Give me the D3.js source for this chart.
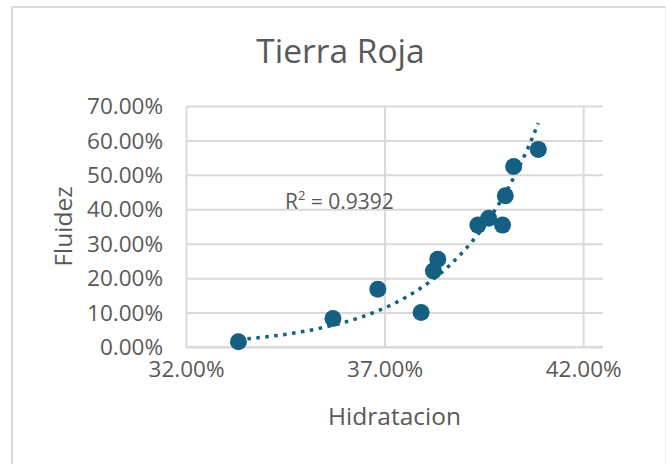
<!DOCTYPE html>
<html>
<head>
<meta charset="utf-8">
<script src="https://cdn.jsdelivr.net/npm/d3@7"></script>
<style>
  body { margin: 0; background: #fff; }
  svg { display: block; }
  text { font-family: "Open Sans", sans-serif; fill: #595959; }
</style>
</head>
<body>
<svg id="chart" width="666" height="464"></svg>
<script>
// Hydration (%) vs. fluidity (%) measurements for "Tierra Roja"
const hidratacion = [33.32, 35.70, 36.83, 37.92, 38.23, 38.34, 39.35, 39.62, 39.97, 40.04, 40.25, 40.87];
const fluidez     = [1.54, 8.3, 16.8, 10.0, 22.1, 25.5, 35.4, 37.4, 35.4, 43.9, 52.4, 57.4];
const xTicks = [32, 37, 42];
const yTicks = [0, 10, 20, 30, 40, 50, 60, 70];
const xDomain = [32, 42.5];
const yDomain = [0, 70];
const chartTitle = "Tierra Roja";
const xTitle = "Hidratacion";
const yTitle = "Fluidez";
const r2Label = "0.9392";

const accent = "#156082";
const grid = "#d9d9d9";

const svg = d3.select("#chart");
const plot = { left: 186, right: 603, top: 106, bottom: 347 };

const x = d3.scaleLinear().domain(xDomain).range([plot.left, plot.right]);
const y = d3.scaleLinear().domain(yDomain).range([plot.bottom, plot.top]);
const pct = d => d.toFixed(2) + "%";

// chart frame
svg.append("path")
  .attr("d", "M12,464 L12,7 L665,7")
  .attr("fill", "none").attr("stroke", grid).attr("stroke-width", 2);
svg.append("line")
  .attr("x1", 665.5).attr("x2", 665.5).attr("y1", 7).attr("y2", 464)
  .attr("stroke", "#efefef").attr("stroke-width", 1);

// horizontal gridlines + y tick labels
const yAxis = svg.append("g")
  .attr("transform", `translate(${plot.left},0)`)
  .call(d3.axisLeft(y).tickValues(yTicks).tickFormat(pct)
    .tickSize(-(plot.right - plot.left)).tickPadding(23));
yAxis.select(".domain").remove();
yAxis.selectAll(".tick line").attr("stroke", grid).attr("stroke-width", 2);
yAxis.selectAll(".tick text")
  .attr("fill", "#595959").attr("font-size", 22.5)
  .attr("font-family", "Open Sans, sans-serif")
  .attr("dy", "0.34em");

// vertical gridlines + x tick labels
const xAxis = svg.append("g")
  .attr("transform", `translate(0,${plot.bottom})`)
  .call(d3.axisBottom(x).tickValues(xTicks).tickFormat(pct)
    .tickSize(-(plot.bottom - plot.top)).tickPadding(14));
xAxis.select(".domain").remove();
xAxis.selectAll(".tick line").attr("stroke", grid).attr("stroke-width", 2);
xAxis.selectAll(".tick text")
  .attr("fill", "#595959").attr("font-size", 22.5)
  .attr("font-family", "Open Sans, sans-serif");

// horizontal axis line
svg.append("line")
  .attr("x1", plot.left).attr("x2", plot.right)
  .attr("y1", plot.bottom).attr("y2", plot.bottom)
  .attr("stroke", grid).attr("stroke-width", 2);

// exponential trendline: least squares fit of ln(y) on x
const lx = hidratacion, ly = fluidez.map(Math.log);
const mx = d3.mean(lx), my = d3.mean(ly);
const b = d3.sum(lx, (v, i) => (v - mx) * (ly[i] - my)) / d3.sum(lx, v => (v - mx) ** 2);
const a = Math.exp(my - b * mx);
const [x0, x1] = d3.extent(hidratacion);
const trendPts = d3.range(0, 101).map(i => {
  const xv = x0 + (x1 - x0) * i / 100;
  return [xv, a * Math.exp(b * xv)];
});
svg.append("path")
  .datum(trendPts)
  .attr("d", d3.line().x(d => x(d[0])).y(d => y(d[1])))
  .attr("fill", "none")
  .attr("stroke", accent)
  .attr("stroke-width", 3.5)
  .attr("stroke-dasharray", "3.5 5.5");

// data points
svg.append("g").selectAll("circle")
  .data(hidratacion.map((h, i) => [h, fluidez[i]]))
  .join("circle")
  .attr("cx", d => x(d[0]))
  .attr("cy", d => y(d[1]))
  .attr("r", 8.5)
  .attr("fill", accent);

// R² label
const r2 = svg.append("text")
  .attr("x", 285).attr("y", 209)
  .attr("font-size", 21);
r2.append("tspan").text("R");
r2.append("tspan").text("2").attr("font-size", 13).attr("dy", -9);
r2.append("tspan").text(" = " + r2Label).attr("dy", 9);

// titles
svg.append("text")
  .attr("x", 340.5).attr("y", 63)
  .attr("text-anchor", "middle")
  .attr("font-size", 33.5)
  .text(chartTitle);

svg.append("text")
  .attr("x", (plot.left + plot.right) / 2).attr("y", 425)
  .attr("text-anchor", "middle")
  .attr("font-size", 24.5)
  .text(xTitle);

svg.append("text")
  .attr("transform", `translate(72,${(plot.top + plot.bottom) / 2}) rotate(-90)`)
  .attr("text-anchor", "middle")
  .attr("font-size", 24.5)
  .text(yTitle);
</script>
</body>
</html>
